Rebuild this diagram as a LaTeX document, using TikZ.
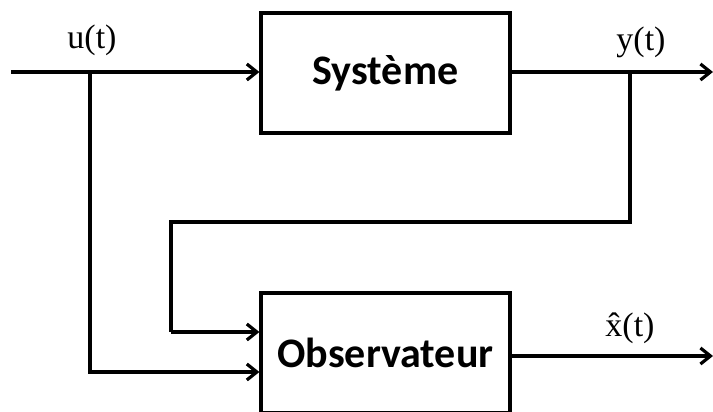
\documentclass[tikz,border=0pt]{standalone}
\usepackage{fontspec}
\setmainfont{Liberation Serif}
\newfontfamily\boxfont{Carlito}[BoldFont={Carlito Bold}]
\usetikzlibrary{arrows.meta}
\begin{document}
\begin{tikzpicture}[x=1pt,y=1pt,
  blockbox/.style={draw, line width=3.2pt, minimum width=249pt, minimum height=120pt,
    inner sep=0pt, font=\boxfont\bfseries\fontsize{42}{46}\selectfont},
  wire/.style={line width=3.2pt, line join=miter},
  arr/.style={wire, -{Straight Barb[length=10pt,width=16pt,line width=3.2pt]}},
  sig/.style={font=\fontsize{34}{38}\selectfont, inner sep=0pt}]
\useasboundingbox (0,0) rectangle (713,412);
\clip (0,0) rectangle (713,412);
\node[blockbox] (sys) at (385.5,339) {Système};
\node[blockbox] (obs) at (385.5,59) {Observateur};
\coordinate (in) at (11,340);
\coordinate (ub) at (90,340);
\coordinate (yb) at (630,340);
\coordinate (yout) at (713,340);
\coordinate (xout) at (713,56);
\coordinate (fbr) at (630,190);
\coordinate (fbl) at (171,190);
\draw[arr] (in) -- (sys.west |- in);
\draw[wire] (sys.east |- in) -- (yb);
\draw[arr] (yb) -- (yout);
\draw[wire] (yb) -- (fbr) -- (fbl) -- (171,80);
\draw[arr] (171,80) -- (obs.west |- 0,80);
\draw[arr] (ub) -- (90,40) -- (obs.west |- 0,40);
\draw[arr] (obs.east |- xout) -- (xout);
\node[sig] (ul) at (92,372) {u(t)};
\node[sig] (yl) at (641,370) {y(t)};
\node[sig] (xl) at (630,84) {\^{x}(t)};
\end{tikzpicture}
\end{document}
